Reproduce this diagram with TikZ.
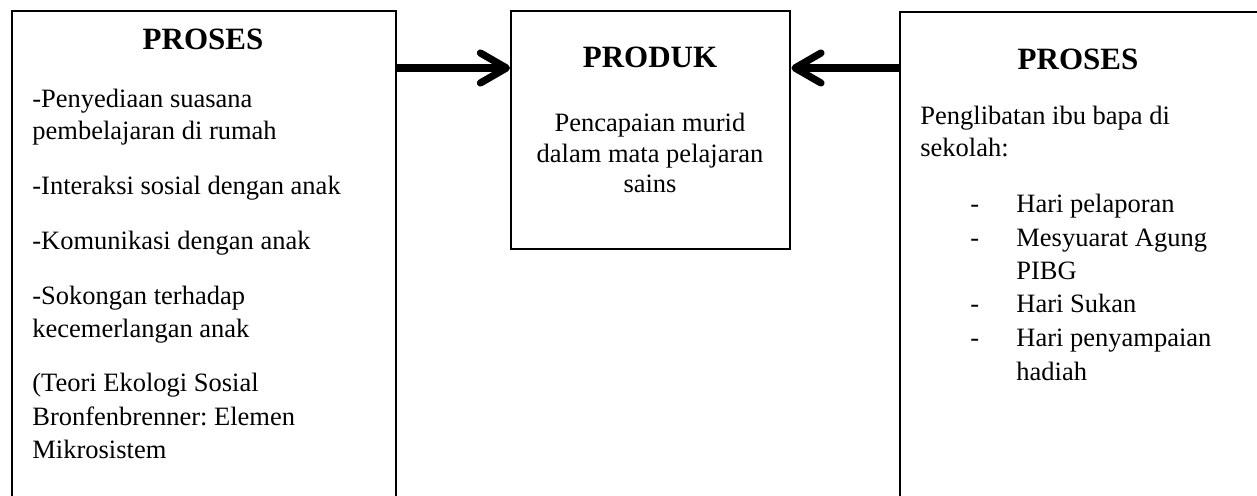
\documentclass[tikz,border=0pt]{standalone}
\usepackage{fontspec}
\setmainfont{Liberation Serif}
\usetikzlibrary{arrows.meta}
\frenchspacing
\begin{document}
\begin{tikzpicture}[x=0.5pt,y=-0.5pt,
  box/.style={draw, line width=1.2pt, inner sep=0pt, anchor=north west},
  ttl/.style={font=\fontsize{15.5pt}{18pt}\selectfont\bfseries, inner sep=0pt, anchor=base},
  txt/.style={font=\fontsize{13.25pt}{16pt}\selectfont, inner sep=0pt, anchor=base west},
  ctxt/.style={font=\fontsize{13.25pt}{16pt}\selectfont, inner sep=0pt, anchor=base},
  arr/.style={line width=3.6pt, -{Straight Barb[length=13pt,width=15pt,line cap=round,line join=round]}}]
\useasboundingbox (0,0) rectangle (1257,496);
\clip (0,0) rectangle (1257,496);
% boxes
\node[box, minimum width=192pt, minimum height=265pt] (L) at (11,10) {};
\node[box, minimum width=139.5pt, minimum height=119pt] (M) at (510,10) {};
\node[box, minimum width=200pt, minimum height=265pt] (R) at (899,11) {};
% arrows
\coordinate (ay) at (0,68);
\draw[arr] (L.east |- ay) -- (M.west |- ay);
\draw[arr] (R.west |- ay) -- (M.east |- ay);
% left box text
\node[ttl] (Lt) at (203,50) {PROSES};
\node[txt] (l1) at (32,108) {-Penyediaan suasana};
\node[txt] (l2) at (32,140) {pembelajaran di rumah};
\node[txt] (l3) at (32,195) {-Interaksi sosial dengan anak};
\node[txt] (l4) at (32,250) {-Komunikasi dengan anak};
\node[txt] (l5) at (32,305) {-Sokongan terhadap};
\node[txt] (l6) at (32,337) {kecemerlangan anak};
\node[txt] (l7) at (32,392) {(Teori Ekologi Sosial};
\node[txt] (l8) at (32,425) {Bronfenbrenner: Elemen};
\node[txt] (l9) at (32,458) {Mikrosistem};
% middle box text
\node[ttl] (Mt) at (650,68) {PRODUK};
\node[ctxt] (m1) at (650,132) {Pencapaian murid};
\node[ctxt] (m2) at (650,163) {dalam mata pelajaran};
\node[ctxt] (m3) at (650,193) {sains};
% right box text
\node[ttl] (Rt) at (1078,70) {PROSES};
\node[txt] (r1) at (920,125) {Penglibatan ibu bapa di};
\node[txt] (r2) at (920,157) {sekolah:};
\node[txt] (d1) at (970,213) {-};
\node[txt] (b1) at (1016,213) {Hari pelaporan};
\node[txt] (d2) at (970,247) {-};
\node[txt] (b2) at (1016,247) {Mesyuarat Agung};
\node[txt] (b3) at (1016,280) {PIBG};
\node[txt] (d3) at (970,313) {-};
\node[txt] (b4) at (1016,313) {Hari Sukan};
\node[txt] (d4) at (970,347) {-};
\node[txt] (b5) at (1016,347) {Hari penyampaian};
\node[txt] (b6) at (1016,380) {hadiah};
\end{tikzpicture}
\end{document}
